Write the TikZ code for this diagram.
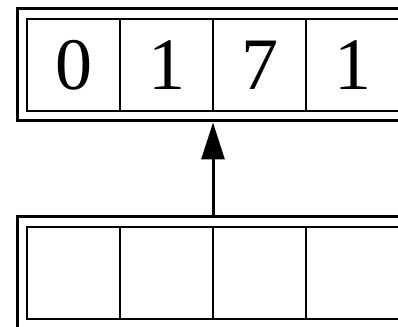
\documentclass[tikz,border=0pt]{standalone}
\usepackage{fontspec}
\setmainfont{Liberation Serif}
\usetikzlibrary{arrows.meta, positioning, fit}
\tikzset{
  cell/.style={draw, line width=1.1pt, minimum width=93pt, minimum height=92pt, outer sep=0pt, inner sep=0pt, font=\fontsize{74}{74}\selectfont},
  frame/.style={draw, line width=3pt, inner sep=10pt},
  arrow/.style={-{Triangle[length=37pt, width=23pt]}, line width=3pt},
}

\begin{document}
\begin{tikzpicture}[x=1pt, y=1pt]
  \useasboundingbox (0,0) rectangle (398,326);
  \clip (0,0) rectangle (398,326);
  % filled register
  \node[cell] (r1) at (73.5,261) {0};
  \node[cell, right=0pt of r1] (r2) {1};
  \node[cell, right=0pt of r2] (r3) {7};
  \node[cell, right=0pt of r3] (r4) {1};
  \node[frame, fit=(r1)(r4)] (rf) {};
  % empty register
  \node[cell] (e1) at (73.5,53) {};
  \node[cell, right=0pt of e1] (e2) {};
  \node[cell, right=0pt of e2] (e3) {};
  \node[cell, right=0pt of e3] (e4) {};
  \node[frame, fit=(e1)(e4)] (ef) {};
  \draw[arrow] (ef.north) -- (rf.south);
\end{tikzpicture}
\end{document}
